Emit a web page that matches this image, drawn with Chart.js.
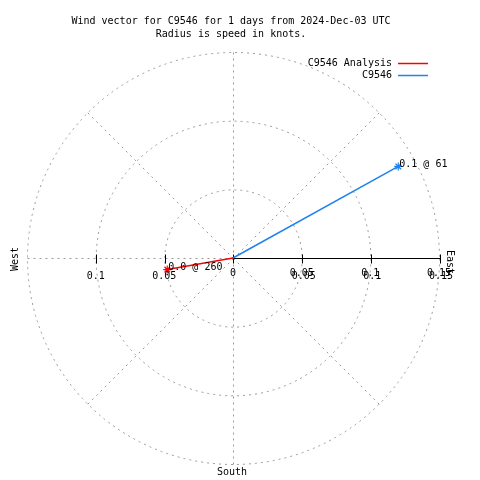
<!DOCTYPE html>
<html>
<head>
<meta charset="utf-8">
<script src="https://cdn.jsdelivr.net/npm/chart.js@4/dist/chart.umd.min.js"></script>
<style>
  html, body { margin: 0; padding: 0; background: #fff; }
  canvas { display: block; }
</style>
</head>
<body>
<canvas id="wind" width="480" height="480"></canvas>
<script>
// Wind vectors, one per series: speed in knots, direction in degrees from north
const seriesNames = ["C9546 Analysis", "C9546"]
const speeds = [0.0486, 0.1376]
const directions = [260, 61]
const vectorLabels = ["0.0 @ 260", "0.1 @ 61"]

// Range rings and radius tick labels
const ringValues = [0.05, 0.1, 0.15]
const rightTickLabels = ["0.05", "0.1", "0.15"]
const leftTickLabels = ["0.05", "0.1"]
const compassLabels = ["East", "South", "West"]

const titleLines = [
  "Wind vector for C9546 for 1 days from 2024-Dec-03 UTC",
  "Radius is speed in knots."
]

const seriesColors = ["#ff0000", "#1e82f0"]
const FONT = "10px 'DejaVu Sans Mono', 'Liberation Mono', monospace"
const maxR = ringValues[ringValues.length - 1]

const toRad = d => d * Math.PI / 180

/**
 * Polar grid plugin: range rings, compass spokes, the east radius axis
 * and all the surrounding text, placed through the chart's x/y scales.
 */
const polarGrid = {
  id: "polarGrid",

  beforeDatasetsDraw(chart) {
    const { ctx, scales: { x, y } } = chart
    const cx = Math.round(x.getPixelForValue(0)) + 0.5
    const cy = Math.round(y.getPixelForValue(0)) + 0.5
    const px = v => x.getPixelForValue(v) - x.getPixelForValue(0)
    const rOut = px(maxR)

    ctx.save()
    ctx.strokeStyle = "#999"
    ctx.lineWidth = 1
    ctx.setLineDash([2, 4])
    ringValues.forEach(v => {
      ctx.beginPath()
      ctx.arc(cx, cy, px(v), 0, 2 * Math.PI)
      ctx.stroke()
    })
    // spokes every 45 degrees, the east one is the solid axis
    for (let a = 0; a < 360; a += 45) {
      if (a === 90) continue
      const t = toRad(a)
      ctx.beginPath()
      ctx.moveTo(cx, cy)
      ctx.lineTo(cx + rOut * Math.sin(t), cy - rOut * Math.cos(t))
      ctx.stroke()
    }
    ctx.setLineDash([])

    // east axis, solid black with ticks
    ctx.strokeStyle = "#000"
    ctx.beginPath()
    ctx.moveTo(cx, cy)
    ctx.lineTo(cx + rOut + 1, cy)
    ctx.stroke()
    ctx.beginPath()
    ringValues.forEach(v => {
      const tx = Math.round(cx + px(v)) + 0.5
      ctx.moveTo(tx, cy - 4)
      ctx.lineTo(tx, cy + 5)
    })
    leftTickLabels.forEach((_, i) => {
      const tx = Math.round(cx - px(ringValues[i])) + 0.5
      ctx.moveTo(tx, cy - 4)
      ctx.lineTo(tx, cy + 5)
    })
    ctx.moveTo(cx, cy - 4)
    ctx.lineTo(cx, cy + 5)
    ctx.stroke()
    ctx.restore()
  },

  afterDraw(chart) {
    const { ctx, scales: { x, y } } = chart
    const cx = x.getPixelForValue(0)
    const cy = y.getPixelForValue(0)
    const px = v => x.getPixelForValue(v) - cx

    ctx.save()
    ctx.font = FONT
    ctx.fillStyle = "#000"
    ctx.textAlign = "center"
    ctx.textBaseline = "top"

    // title
    ctx.fillText(titleLines[0], 231, 16)
    ctx.fillText(titleLines[1], 231, 29)

    // radius tick labels (the right side is printed twice, slightly offset)
    ctx.fillText("0", cx, cy + 10)
    rightTickLabels.forEach((t, i) => {
      const tx = cx + px(ringValues[i])
      ctx.fillText(t, tx, cy + 10)
      ctx.fillText(t, tx + 2, cy + 13)
    })
    leftTickLabels.forEach((t, i) => {
      ctx.fillText(t, cx - px(ringValues[i]), cy + 13)
    })

    // compass labels
    ctx.textBaseline = "middle"
    ctx.fillText(compassLabels[1], cx - 1, cy + px(maxR) + 8)
    ctx.save()
    ctx.translate(cx + px(maxR) + 11, cy + 4)
    ctx.rotate(Math.PI / 2)
    ctx.fillText(compassLabels[0], 0, 0)
    ctx.restore()
    ctx.save()
    ctx.translate(cx - px(maxR) - 12, cy + 1)
    ctx.rotate(-Math.PI / 2)
    ctx.fillText(compassLabels[2], 0, 0)
    ctx.restore()

    // vector tip labels
    ctx.textAlign = "left"
    chart.data.datasets.forEach((ds, i) => {
      const pt = chart.getDatasetMeta(i).data[1]
      ctx.fillText(vectorLabels[i], pt.x + 1, pt.y - 2)
    })

    // legend
    ctx.textAlign = "right"
    seriesNames.forEach((name, i) => {
      const ly = 63 + i * 12
      ctx.fillText(name, 392, ly)
      ctx.strokeStyle = seriesColors[i]
      ctx.lineWidth = 1.5
      ctx.beginPath()
      ctx.moveTo(398, ly + 0.5)
      ctx.lineTo(428, ly + 0.5)
      ctx.stroke()
    })
    ctx.restore()
  }
}

const datasets = seriesNames.map((name, i) => {
  const t = toRad(directions[i])
  return {
    label: name,
    data: [
      { x: 0, y: 0 },
      { x: speeds[i] * Math.sin(t), y: speeds[i] * Math.cos(t) }
    ],
    showLine: true,
    borderColor: seriesColors[i],
    borderWidth: 1.5,
    pointStyle: "star",
    pointRadius: [0, 4],
    pointBorderColor: seriesColors[i],
    pointBorderWidth: 1.2
  }
})

new Chart(document.getElementById("wind"), {
  type: "scatter",
  data: { datasets },
  options: {
    responsive: false,
    animation: false,
    devicePixelRatio: 1,
    layout: { padding: { left: 27, right: 41, top: 52, bottom: 16 } },
    scales: {
      x: { display: false, min: -maxR, max: maxR },
      y: { display: false, min: -maxR, max: maxR }
    },
    plugins: {
      legend: { display: false },
      title: { display: false },
      tooltip: { enabled: false }
    }
  },
  plugins: [polarGrid]
})
</script>
</body>
</html>
